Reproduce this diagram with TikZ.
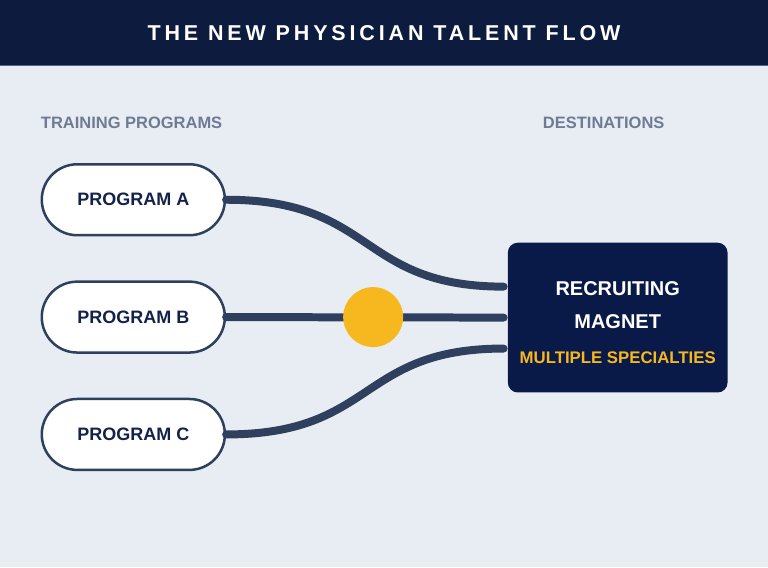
\documentclass[tikz,border=0pt]{standalone}
\usepackage{fontspec}
\setmainfont{Liberation Sans}
\usetikzlibrary{positioning,shapes.misc}

\definecolor{navy}{HTML}{0D1B3F}
\definecolor{boxnavy}{HTML}{0A1A48}
\definecolor{slate}{HTML}{2F3F5E}
\definecolor{paper}{HTML}{E8EDF4}
\definecolor{muted}{HTML}{6E7B93}
\definecolor{gold}{HTML}{F6B81E}
\definecolor{ink}{HTML}{13224A}

\begin{document}
\begin{tikzpicture}[x=1pt, y=-1pt, node distance=117.5pt,
    program/.style={rounded rectangle, draw=slate, line width=2.5pt, fill=white, minimum width=190pt, minimum height=71pt, text=ink, font=\fontsize{18}{21}\selectfont\bfseries},
    head/.style={text=muted, font=\fontsize{16.5}{19}\selectfont\bfseries},
    flow/.style={draw=slate, line width=8pt, line cap=round}]

    % page and title band
    \fill[paper] (0,0) rectangle (768,568);
    \fill[navy] (0,0) rectangle (768,66);
    \draw[line width=1pt, color=slate!80] (0,66) -- (768,66);
    \node[text=white, font=\fontsize{21.5}{25}\selectfont\bfseries\addfontfeatures{LetterSpace=18}] (title) at (384,33) {THE NEW PHYSICIAN TALENT FLOW};

    \node[head, anchor=west] (trainhead) at (37,123) {TRAINING PROGRAMS};
    \node[head] (desthead) at (604,123) {DESTINATIONS};

    \node[program] (progA) at (133,200) {PROGRAM A};
    \node[program] (progB) [below of=progA] {PROGRAM B};
    \node[program] (progC) [below of=progB] {PROGRAM C};

    \node[rectangle, rounded corners=10pt, fill=boxnavy, minimum width=220pt, minimum height=150pt] (dest) at (618,318) {};
    \node[text=white, font=\fontsize{20}{23}\selectfont\bfseries] (destname) at (618,289) {RECRUITING};
    \node[text=white, font=\fontsize{20}{23}\selectfont\bfseries] (destsub) at (618,322) {MAGNET};
    \node[text=gold, font=\fontsize{16.8}{19}\selectfont\bfseries] (destnote) at (618,358) {MULTIPLE SPECIALTIES};

    \draw[flow, shorten >=4pt] (progA.east) .. controls +(150,0) and +(-150,0) .. ([yshift=31pt]dest.west);
    \draw[flow, shorten >=4pt] (progB.east) -- (dest.west);
    \draw[flow, shorten >=4pt] (progC.east) .. controls +(150,0) and +(-150,0) .. ([yshift=-31pt]dest.west);

    \node[circle, fill=gold, minimum size=60pt] (hub) [right=117pt of progB] {};
\end{tikzpicture}
\end{document}
